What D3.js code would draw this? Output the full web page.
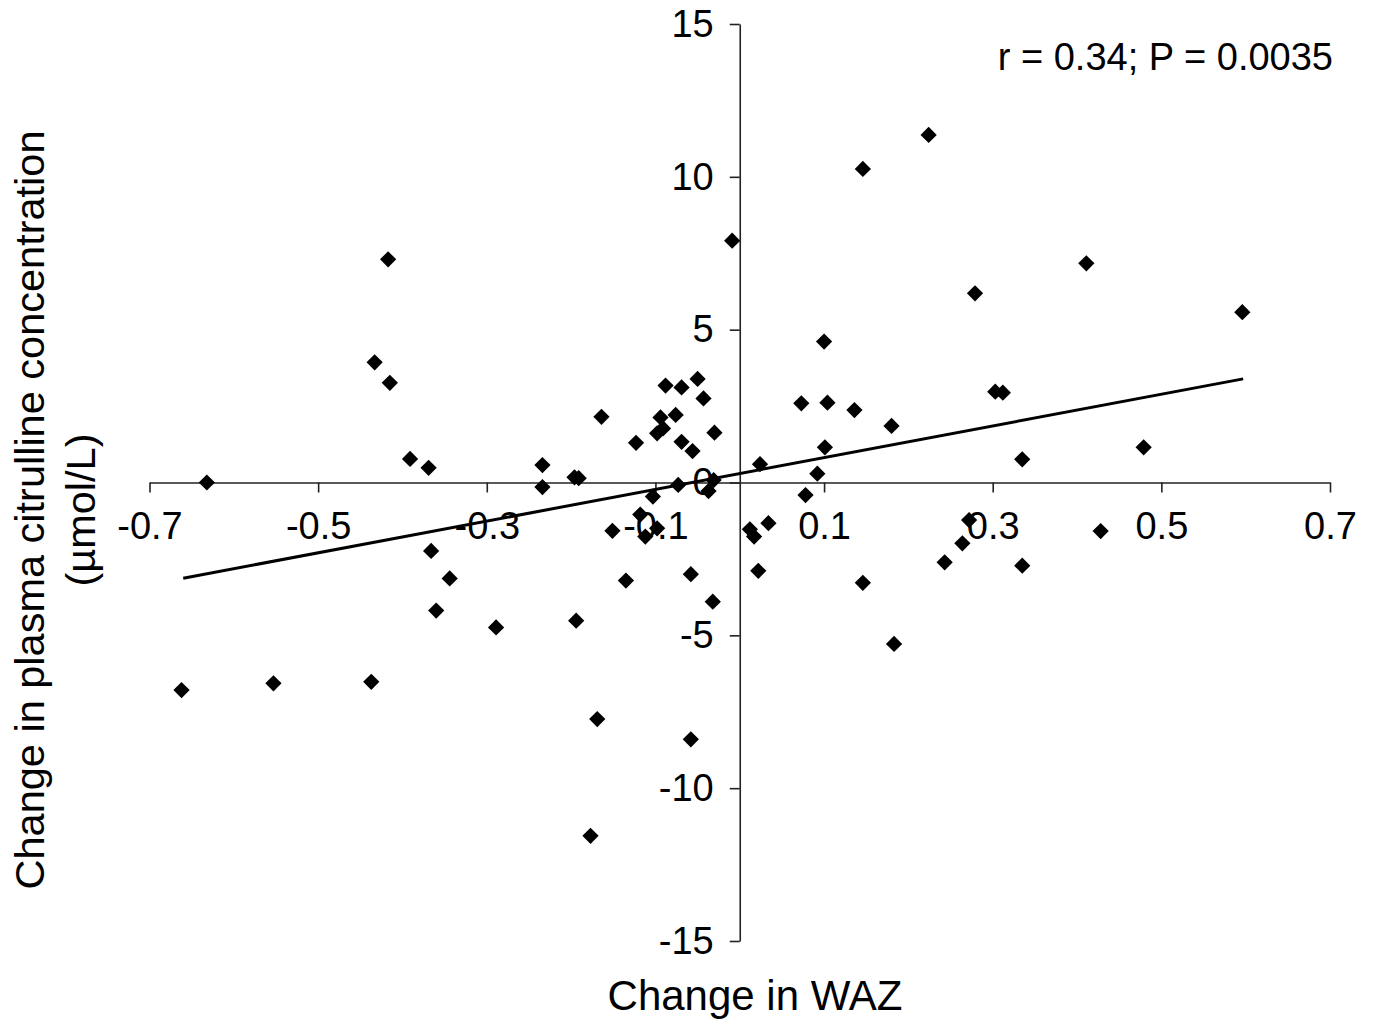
<!DOCTYPE html>
<html lang="en">
<head>
<meta charset="utf-8">
<title>Change in WAZ and plasma citrulline</title>
<script src="https://cdnjs.cloudflare.com/ajax/libs/d3/7.8.5/d3.min.js"></script>
<style>
  body { margin: 0; background: #fff; }
  svg text { font-family: "Liberation Sans", Arial, sans-serif; fill: #000; }
</style>
</head>
<body>
<svg id="chart" width="1376" height="1023"></svg>
<script>
// change in WAZ (x) and change in citrulline, umol/L (y), one entry per child
const wazChange = [
  -0.632, -0.662, -0.553, -0.437, -0.417, -0.433, -0.415, -0.391, -0.369, -0.366,
  -0.344, -0.360, -0.289, -0.234, -0.234, -0.196, -0.191, -0.194, -0.169, -0.177,
  -0.164, -0.151, -0.135, -0.123, -0.118, -0.112, -0.103, -0.098, -0.098, -0.091,
  -0.094, -0.088, -0.076, -0.073, -0.069, -0.069, -0.058, -0.058, -0.056, -0.050,
  -0.043, -0.037, -0.031, -0.032, -0.030, -0.009, 0.012, 0.017, 0.022, 0.024,
  0.034, 0.073, 0.078, 0.092, 0.100, 0.101, 0.104, 0.136, 0.146, 0.146,
  0.180, 0.183, 0.224, 0.243, 0.264, 0.272, 0.279, 0.303, 0.312, 0.335,
  0.335, 0.411, 0.428, 0.479, 0.596
];
const citChange = [
  0.0, -6.79, -6.57, -6.52, 7.30, 3.93, 3.26, 0.77, 0.48, -2.24,
  -3.14, -4.19, -4.74, 0.57, -0.15, 0.17, 0.14, -4.52, -7.74, -11.56,
  2.15, -1.58, -3.21, 1.30, -1.05, -1.77, -0.46, -1.50, 1.61, 1.77,
  2.13, 3.17, 2.21, -0.08, 3.11, 1.33, -3.00, -8.40, 1.03, 3.39,
  2.75, -0.28, 0.08, -3.90, 1.63, 7.91, -1.53, -1.77, -2.89, 0.60,
  -1.33, 2.59, -0.41, 0.29, 4.61, 1.15, 2.61, 2.37, 10.26, -3.28,
  1.85, -5.28, 11.37, -2.61, -1.99, -1.23, 6.19, 2.97, 2.94, 0.76,
  -2.72, 7.17, -1.59, 1.15, 5.57
];
// fitted line end points
const trendX = [-0.66, 0.597];
const trendY = [-3.13, 3.39];

const xTicks = [-0.7, -0.5, -0.3, -0.1, 0.1, 0.3, 0.5, 0.7];
const yTicks = [-15, -10, -5, 0, 5, 10, 15];
const xTitle = "Change in WAZ";
const yTitle = ["Change in plasma citrulline concentration", "(µmol/L)"];
const statText = "r = 0.34; P = 0.0035";

const svg = d3.select("#chart");

const x = d3.scaleLinear().domain([-0.7, 0.7]).range([149.5, 1330]);
const y = d3.scaleLinear().domain([-15, 15]).range([941, 24]);

// axes cross at zero
svg.append("g")
  .attr("transform", `translate(0,${y(0)})`)
  .call(d3.axisBottom(x).tickValues(xTicks).tickSize(10).tickSizeOuter(0)
    .tickPadding(20).tickFormat(d => d.toFixed(1)));

svg.append("g")
  .attr("transform", `translate(${x(0)},0)`)
  .call(d3.axisLeft(y).tickValues(yTicks).tickSize(10).tickSizeOuter(0)
    .tickPadding(16).tickFormat(d => String(d)));

svg.selectAll(".domain, .tick line").attr("stroke", "#222").attr("stroke-width", 1.6);
svg.selectAll(".tick text").attr("font-size", 38).attr("font-family", "Liberation Sans, Arial, sans-serif");

// regression line
svg.append("line")
  .attr("x1", x(trendX[0])).attr("y1", y(trendY[0]))
  .attr("x2", x(trendX[1])).attr("y2", y(trendY[1]))
  .attr("stroke", "#000").attr("stroke-width", 3);

// diamonds
const diamond = d3.symbol().type(d3.symbolSquare).size(132);
svg.append("g").selectAll("path")
  .data(d3.range(wazChange.length))
  .join("path")
  .attr("d", diamond)
  .attr("transform", i => `translate(${x(wazChange[i])},${y(citChange[i])}) rotate(45)`)
  .attr("fill", "#000");

svg.append("text")
  .attr("x", 1333).attr("y", 70)
  .attr("text-anchor", "end")
  .attr("font-size", 38)
  .text(statText);

svg.append("text")
  .attr("x", 755).attr("y", 1010)
  .attr("text-anchor", "middle")
  .attr("font-size", 42)
  .text(xTitle);

const yLab = svg.append("text")
  .attr("transform", "translate(0,510) rotate(-90)")
  .attr("text-anchor", "middle")
  .attr("font-size", 41.5);
yLab.append("tspan").attr("x", 0).attr("y", 44).text(yTitle[0]);
yLab.append("tspan").attr("x", 0).attr("y", 95).text(yTitle[1]);
</script>
</body>
</html>
